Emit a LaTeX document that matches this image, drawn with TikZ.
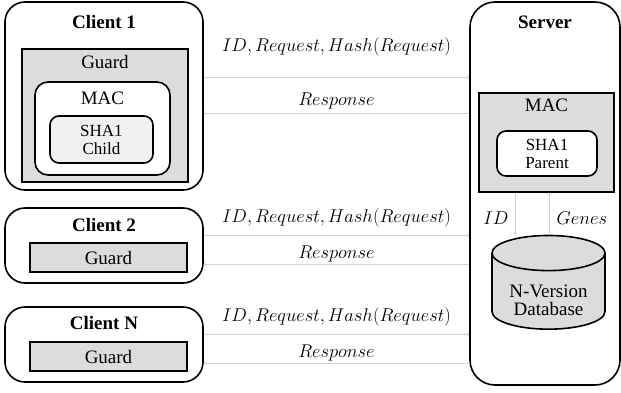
\documentclass[tikz,border=0pt]{standalone}
\usepackage{fix-cm}
\usepackage{fontspec}
\setmainfont{Liberation Serif}
\usetikzlibrary{shapes.geometric}
\definecolor{guard-gray}{RGB}{220, 220, 222}
\definecolor{child-gray}{RGB}{240, 240, 240}
\definecolor{link-gray}{RGB}{210, 210, 210}

\begin{document}
\begin{tikzpicture}[x=1pt, y=-1pt,
    every node/.style={font=\fontsize{19}{21}\selectfont},
    outerbox/.style={draw=black, line width=1.6pt, rounded corners=20pt, inner sep=0pt},
    graybox/.style={draw=black, line width=1.6pt, fill=guard-gray, inner sep=0pt},
    roundbox/.style={draw=black, line width=1.6pt, rounded corners=13pt, inner sep=0pt},
    title/.style={font=\fontsize{19}{21}\selectfont\bfseries},
    link/.style={draw=link-gray, line width=0.7pt, ->},
    msg/.style={font=\fontsize{18.5}{21}\selectfont, text=black}]
\useasboundingbox (0,0) rectangle (621,392);

% Client 1
\node[outerbox, minimum width=198pt, minimum height=188pt] (c1) at (104,96) {};
\node[title] (c1t) at (104,22) {Client 1};
\node[graybox, minimum width=166pt, minimum height=133pt] (g1) at (105,115.5) {};
\node (g1t) at (105,62) {Guard};
\node[roundbox, fill=white, minimum width=135pt, minimum height=93pt] (mac1) at (102.5,128.5) {};
\node (mac1t) at (102.5,98) {MAC};
\node[roundbox, rounded corners=9pt, fill=child-gray, minimum width=103pt, minimum height=47pt,
      align=center, font=\fontsize{17}{18}\selectfont] (sha1) at (101.5,139.5) {SHA1\\Child};

% Client 2
\node[outerbox, minimum width=198pt, minimum height=75pt] (c2) at (104,245.5) {};
\node[title] (c2t) at (104,225) {Client 2};
\node[graybox, minimum width=157pt, minimum height=29pt] (g2) at (108.5,257.5) {Guard};

% Client N
\node[outerbox, minimum width=198pt, minimum height=75pt] (cn) at (104,344.5) {};
\node[title] (cnt) at (104,323) {Client N};
\node[graybox, minimum width=157pt, minimum height=29pt] (gn) at (108.5,356.5) {Guard};

% Server
\node[outerbox, rounded corners=25pt, minimum width=150pt, minimum height=383pt] (srv) at (545,193.5) {};
\node[title] (srvt) at (545,22) {Server};
\node[graybox, minimum width=135pt, minimum height=99pt] (mac2) at (546.5,142.5) {};
\node (mac2t) at (546.5,105) {MAC};
\node[roundbox, rounded corners=9pt, fill=white, minimum width=100pt, minimum height=45pt,
      align=center, font=\fontsize{17}{18}\selectfont] (sha2) at (547,153.5) {SHA1\\Parent};
\node[cylinder, shape border rotate=90, aspect=0.45, draw=black, line width=1.6pt,
      fill=guard-gray, minimum width=113pt, minimum height=87pt, align=center, inner sep=0pt] (db) at (548.5,291.5)
      {\\[-2pt]\phantom{N-Version}\\\phantom{Database}};
\node[align=center, font=\fontsize{19}{18}\selectfont] (dbt) at (548.5,300) {N-Version\\Database};

% messages
\coordinate (r1) at (0,77);  \coordinate (s1) at (0,113);
\coordinate (r2) at (0,235); \coordinate (s2) at (0,264);
\coordinate (r3) at (0,334); \coordinate (s3) at (0,363);
\path[link] (c1.east |- r1) -- node[msg, above=17pt] {$ID, Request, Hash(Request)$} (srv.west |- r1);
\path[link] (srv.west |- s1) -- node[msg, above=0pt] {$Response$} (c1.east |- s1);
\path[link] (c2.east |- r2) -- node[msg, above=4pt] {$ID, Request, Hash(Request)$} (srv.west |- r2);
\path[link] (srv.west |- s2) -- node[msg, above=-2pt] {$Response$} (c2.east |- s2);
\path[link] (cn.east |- r3) -- node[msg, above=4pt] {$ID, Request, Hash(Request)$} (srv.west |- r3);
\path[link] (srv.west |- s3) -- node[msg, above=-2pt] {$Response$} (cn.east |- s3);

% server inside
\coordinate (d1) at (515,0); \coordinate (u1) at (549,0);
\path[link] (mac2.south -| d1) -- node[msg, left=3pt, yshift=-4pt] {$ID$} (db.north -| d1);
\path[link] (db.north -| u1) -- node[msg, right=4pt, yshift=-4pt] {$Genes$} (mac2.south -| u1);
\end{tikzpicture}
\end{document}
